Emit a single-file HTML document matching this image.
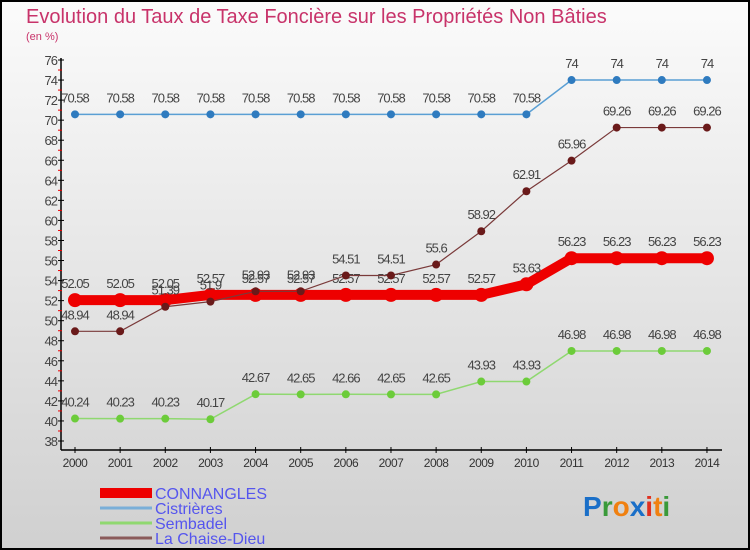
<!DOCTYPE html>
<html><head><meta charset="utf-8"><style>
body{margin:0}
svg{display:block;font-family:"Liberation Sans",sans-serif}
</style></head><body>
<svg id="c" width="750" height="550" viewBox="0 0 750 550">
<defs><linearGradient id="bg" x1="0" y1="0" x2="0" y2="1"><stop offset="0" stop-color="#fbfbfb"/><stop offset="1" stop-color="#d0d0d0"/></linearGradient></defs>
<rect x="1" y="1" width="748" height="548" fill="url(#bg)" stroke="#000" stroke-width="2"/>
<text x="26" y="23" font-size="20" fill="#c8336a">Evolution du Taux de Taxe Foncière sur les Propriétés Non Bâties</text>
<text x="26" y="40" font-size="11" fill="#c8336a">(en %)</text>
<g id="axes"></g><g id="series"></g><g id="legend"></g>
<text x="583" y="516" font-size="28" font-weight="bold"><tspan fill="#1a6fc8">P</tspan><tspan fill="#3a9a3a">r</tspan><tspan fill="#f08010">o</tspan><tspan fill="#1a6fc8">x</tspan><tspan fill="#e03020">i</tspan><tspan fill="#f08010">t</tspan><tspan fill="#3a9a3a">i</tspan></text>
</svg>
<script>
const years=[2000,2001,2002,2003,2004,2005,2006,2007,2008,2009,2010,2011,2012,2013,2014];
const connangles=[52.05,52.05,52.05,52.57,52.57,52.57,52.57,52.57,52.57,52.57,53.63,56.23,56.23,56.23,56.23];
const cistrieres=[70.58,70.58,70.58,70.58,70.58,70.58,70.58,70.58,70.58,70.58,70.58,74,74,74,74];
const sembadel=[40.24,40.23,40.23,40.17,42.67,42.65,42.66,42.65,42.65,43.93,43.93,46.98,46.98,46.98,46.98];
const chaise=[48.94,48.94,51.39,51.9,52.93,52.93,54.51,54.51,55.6,58.92,62.91,65.96,69.26,69.26,69.26];
const yTicks=[38,40,42,44,46,48,50,52,54,56,58,60,62,64,66,68,70,72,74,76];
const NS='http://www.w3.org/2000/svg';
const X=i=>75+i*45.14, Y=v=>441-(v-38)*(381/38);
function mk(p,t,a){const e=document.createElementNS(NS,t);for(const k in a)e.setAttribute(k,a[k]);p.appendChild(e);return e;}
const ax=document.getElementById('axes');
let e=mk(ax,'line',{x1:61,y1:58,x2:61,y2:450,stroke:'#000','stroke-width':1.5});


e=mk(ax,'line',{x1:61,y1:450,x2:722,y2:450,stroke:'#000','stroke-width':1.5});


yTicks.forEach(v=>{
 mk(ax,'line',{x1:58,y1:Y(v),x2:64,y2:Y(v),stroke:'#000'});
 if(v<76)mk(ax,'line',{x1:58,y1:Y(v+1),x2:62,y2:Y(v+1),stroke:'#e00'});
 const t=mk(ax,'text',{x:57,y:Y(v)+5,'text-anchor':'end','font-size':13,fill:'#444','letter-spacing':'-1'});
 t.textContent=v;
 
 
});
years.forEach((y,i)=>{
 mk(ax,'line',{x1:X(i),y1:447,x2:X(i),y2:453,stroke:'#000'});
 const t=mk(ax,'text',{x:X(i),y:467,'text-anchor':'middle','font-size':12,fill:'#333','letter-spacing':'-0.5'});
 t.textContent=y;
 
 
});
const S=document.getElementById('series');
function draw(name,vals,color,dot,w,r){
 const g=mk(S,'g',{});
 
 
 mk(g,'polyline',{points:vals.map((v,i)=>X(i)+','+Y(v)).join(' '),fill:'none',stroke:color,'stroke-width':w});
 vals.forEach((v,i)=>{
  const c=mk(g,'circle',{cx:X(i),cy:Y(v),r:r,fill:dot});
  
  
  const t=mk(g,'text',{x:X(i),y:Y(v)-12,'text-anchor':'middle','font-size':13,fill:'#444','letter-spacing':'-1'});
  t.textContent=v;
  
  
 });
}
draw('cistrieres',cistrieres,'#5a9fd4','#2f7bbf',1.5,4);
draw('sembadel',sembadel,'#8fd870','#6ccc3a',1.5,4);
draw('connangles',connangles,'#ee0000','#ee0000',10,7);
draw('la-chaise-dieu',chaise,'#7a3a3a','#6a1a1a',1.2,4);
const L=document.getElementById('legend');
[['CONNANGLES','#ee0000',10],['Cistrières','#7aafd8',3],['Sembadel','#90d870',3],['La Chaise-Dieu','#8a5a5a',3]].forEach((d,i)=>{
 const y=493+i*15;
 mk(L,'line',{x1:100,y1:y,x2:152,y2:y,stroke:d[1],'stroke-width':d[2]});
 const t=mk(L,'text',{x:155,y:y+6,'font-size':16,fill:'#5555ee'});
 t.textContent=d[0];
 
 
});
</script>
</body></html>
